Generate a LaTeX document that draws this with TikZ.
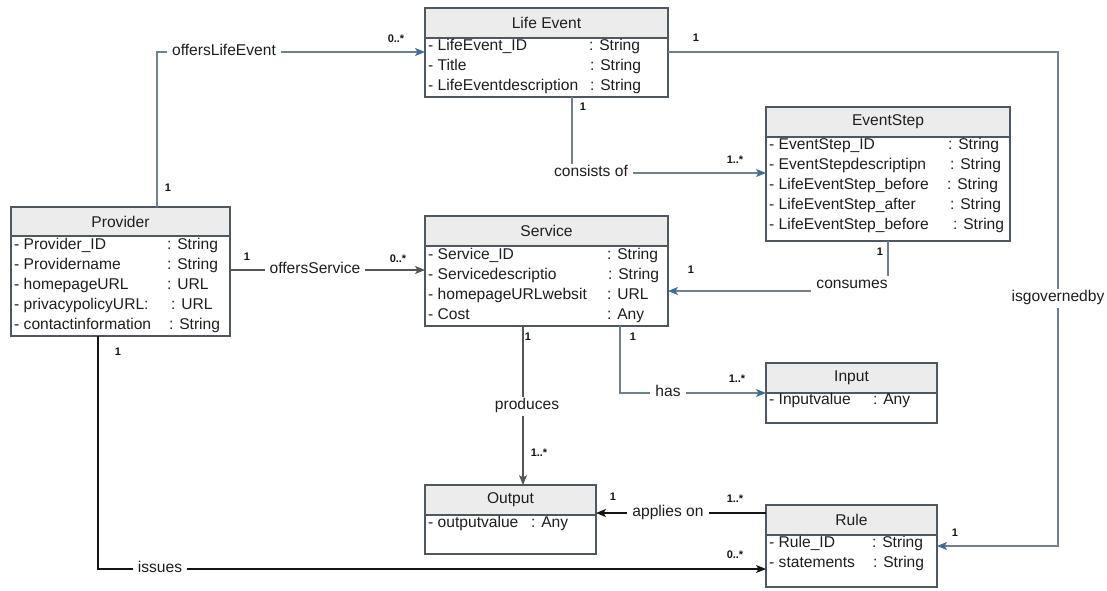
\documentclass[tikz,border=0pt]{standalone}
\usepackage{fontspec}
\setmainfont{Liberation Sans}
\usetikzlibrary{arrows.meta}

\definecolor{boxline}{HTML}{4E5862}
\definecolor{headfill}{HTML}{ECECEC}
\definecolor{wire}{HTML}{6D8194}
\definecolor{tipblue}{HTML}{3E6D9C}
\definecolor{wiredark}{HTML}{555555}
\definecolor{ink}{HTML}{151515}
\definecolor{txt}{HTML}{1E1E1E}

\tikzset{
  classbox/.style={draw=boxline, line width=1.1pt, fill=white, anchor=north west,
                   inner sep=0pt, outer sep=0pt},
  boxedge/.style={draw=boxline, line width=1.1pt},
  classtitle/.style={inner sep=0pt, text=txt, font=\fontsize{15.6}{18}\selectfont},
  attr/.style={anchor=mid west, inner sep=0pt, text=txt, font=\fontsize{15.6}{18}\selectfont},
  rel/.style={fill=white, inner xsep=5pt, inner ysep=2pt, text height=11pt, text depth=4pt,
              text=txt, font=\fontsize{15.6}{18}\selectfont},
  mult/.style={inner sep=0pt, text=ink, font=\bfseries\fontsize{11}{12}\selectfont},
  conn/.style={line width=1.1pt, draw=wire,
               -{Stealth[length=10pt,width=8pt,inset=2.5pt,color=tipblue]}},
  conngray/.style={line width=1.1pt, draw=wiredark,
               -{Stealth[length=10pt,width=8pt,inset=2.5pt,color=wiredark]}},
  connblack/.style={line width=1.1pt, draw=ink,
               -{Stealth[length=10pt,width=8pt,inset=2.5pt,color=ink]}},
}

% class box: name, x1, y1, x2, y2, header bottom, title
\newcommand\umlbox[7]{%
  \node[classbox, minimum width={(#4-#2)*1pt}, minimum height={(#5-#3)*1pt}] (#1) at (#2,#3) {};
  \fill[headfill] (#2,#3) rectangle (#4,#6);
  \draw[boxedge] (#2,#6) -- (#4,#6);
  \draw[boxedge] (#1.north west) rectangle (#1.south east);
  \node[classtitle] (#1-title) at ({(#2+#4)/2},{(#3+#6)/2}) {#7};
}
% attribute row: node name, x, y, attribute, colon x, type
\newcommand\umlattr[6]{%
  \node[attr] (#1-n) at (#2,#3) {- #4};
  \node[attr] (#1-t) at (#5,#3) {: #6};
}

\begin{document}
\begin{tikzpicture}[x=1pt, y=-1pt]
\useasboundingbox (0,0) rectangle (1107,590);

% ---------- classes ----------
\umlbox{life}{425}{8}{668}{97}{38}{Life Event}
\umlattr{life1}{428}{48}{LifeEvent\_ID}{589}{String}
\umlattr{life2}{428}{68}{Title}{590}{String}
\umlattr{life3}{428}{88}{LifeEventdescription}{590}{String}

\umlbox{es}{766}{107}{1010}{241}{137}{EventStep}
\umlattr{es1}{769}{147}{EventStep\_ID}{948}{String}
\umlattr{es2}{769}{167}{EventStepdescriptipn}{950}{String}
\umlattr{es3}{769}{187}{LifeEventStep\_before}{947}{String}
\umlattr{es4}{769}{207}{LifeEventStep\_after}{950}{String}
\umlattr{es5}{769}{227}{LifeEventStep\_before}{953}{String}

\umlbox{prov}{11}{207}{230}{336}{236}{Provider}
\umlattr{prov1}{14}{247}{Provider\_ID}{167}{String}
\umlattr{prov2}{14}{267}{Providername}{167}{String}
\umlattr{prov3}{14}{287}{homepageURL}{167}{URL}
\umlattr{prov4}{14}{307}{privacypolicyURL:}{171}{URL}
\umlattr{prov5}{14}{327}{contactinformation}{169}{String}

\umlbox{serv}{425}{216}{668}{326}{246}{Service}
\umlattr{serv1}{428}{257}{Service\_ID}{607}{String}
\umlattr{serv2}{428}{277}{Servicedescriptio}{608}{String}
\umlattr{serv3}{428}{297}{homepageURLwebsit}{607}{URL}
\umlattr{serv4}{428}{317}{Cost}{607}{Any}

\umlbox{input}{766}{363}{937}{423}{393}{Input}
\umlattr{input1}{769}{402}{Inputvalue}{873}{Any}

\umlbox{out}{425}{485}{596}{554}{515}{Output}
\umlattr{out1}{428}{525}{outputvalue}{531}{Any}

\umlbox{rule}{766}{505}{937}{587}{535}{Rule}
\umlattr{rule1}{769}{545}{Rule\_ID}{872}{String}
\umlattr{rule2}{769}{565}{statements}{873}{String}

% ---------- route corners ----------
\coordinate (k1) at (157,52);
\coordinate (k2) at (240,270);
\coordinate (k3) at (572,173);
\coordinate (k4a) at (1058,52);
\coordinate (k4b) at (1058,546);
\coordinate (k5) at (888,291);
\coordinate (k6) at (620,393);
\coordinate (k7) at (523,400);
\coordinate (k8) at (680,513);
\coordinate (k9) at (98,569);

% ---------- associations ----------
\draw[conn] (prov.north -| k1) -- (k1) -- (life.west |- k1);
\draw[conngray] (prov.east |- k2) -- (serv.west |- k2);
\draw[conn] (life.south -| k3) -- (k3) -- (es.west |- k3);
\draw[conn] (life.east |- k4a) -- (k4a) -- (k4b) -- (rule.east |- k4b);
\draw[conn] (es.south -| k5) -- (k5) -- (serv.east |- k5);
\draw[conn] (serv.south -| k6) -- (k6) -- (input.west |- k6);
\draw[conngray] (serv.south -| k7) -- (out.north -| k7);
\draw[connblack] (rule.west |- k8) -- (out.east |- k8);
\draw[connblack] (prov.south -| k9) -- (k9) -- (rule.west |- k9);

% ---------- association names ----------
\node[rel] (r-offersle) at (224,52) {offersLifeEvent};
\node[rel] (r-offerss) at (315,270) {offersService};
\node[rel] (r-consists) at (591,173) {consists of};
\node[rel] (r-governed) at (1058,298) {isgovernedby};
\node[rel] (r-consumes) at (852,285) {consumes};
\node[rel] (r-has) at (668,393) {has};
\node[rel] (r-produces) at (527,406) {produces};
\node[rel] (r-applies) at (668,513) {applies on};
\node[rel] (r-issues) at (160,569) {issues};

% ---------- multiplicities ----------
\node[mult] (m1) at (168,188) {1};
\node[mult] (m2) at (396,39) {0..*};
\node[mult] (m3) at (247,257) {1};
\node[mult] (m4) at (398,259) {0..*};
\node[mult] (m5) at (583,107) {1};
\node[mult] (m6) at (735,160) {1..*};
\node[mult] (m7) at (696,38) {1};
\node[mult] (m8) at (955,533) {1};
\node[mult] (m9) at (880,252) {1};
\node[mult] (m10) at (691,270) {1};
\node[mult] (m11) at (633,337) {1};
\node[mult] (m12) at (737,379) {1..*};
\node[mult] (m13) at (528,337) {1};
\node[mult] (m14) at (539,453) {1..*};
\node[mult] (m15) at (613,497) {1};
\node[mult] (m16) at (735,499) {1..*};
\node[mult] (m17) at (118,352) {1};
\node[mult] (m18) at (735,555) {0..*};
\end{tikzpicture}
\end{document}
